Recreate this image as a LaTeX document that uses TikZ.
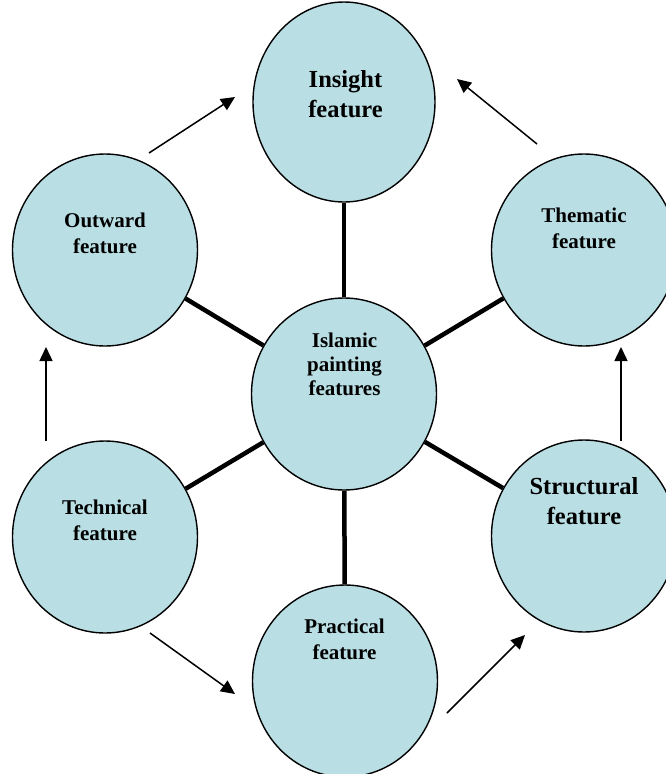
\documentclass[tikz,border=0pt]{standalone}
\usepackage{fontspec}
\setmainfont{Liberation Serif}
\usetikzlibrary{shapes.geometric,arrows.meta}
\definecolor{featblue}{RGB}{185,222,228}
\tikzset{
  feat/.style={ellipse,draw,line width=1.4pt,fill=featblue,inner sep=0pt,
    minimum width=185pt,minimum height=192pt},
  spoke/.style={line width=4.5pt},
  flow/.style={line width=1.5pt,-{Triangle[length=14pt,width=13pt]}},
  smalltxt/.style={font=\fontsize{21}{26}\selectfont\bfseries,align=center},
  bigtxt/.style={font=\fontsize{24.5}{30}\selectfont\bfseries,align=center}
}
\begin{document}
\begin{tikzpicture}[x=1pt,y=-1pt]
	\useasboundingbox (0,0) rectangle (665,774);
	% Circles
	\node[feat] (hub) at (344,394) {};
	\node[feat,minimum width=182pt,minimum height=200pt] (insight) at (344,102) {};
	\node[feat] (outward) at (105,250) {};
	\node[feat] (thematic) at (584,250) {};
	\node[feat] (technical) at (105,537) {};
	\node[feat] (structural) at (584,536) {};
	\node[feat] (practical) at (345,681) {};

	% spokes from the middle
	\draw[spoke] (hub) -- (insight);
	\draw[spoke] (hub) -- (outward);
	\draw[spoke] (hub) -- (thematic);
	\draw[spoke] (hub) -- (technical);
	\draw[spoke] (hub) -- (structural);
	\draw[spoke] (hub) -- (practical);

	% Labels
	\node[smalltxt,align=center,font=\fontsize{21}{24}\selectfont\bfseries] (hub-txt) at (344.5,364.5) {Islamic\\painting\\features};
	\node[bigtxt] (insight-txt) at (345.5,94.5) {Insight\\feature};
	\node[smalltxt] (outward-txt) at (105,233) {Outward\\feature};
	\node[smalltxt] (thematic-txt) at (584,228) {Thematic\\feature};
	\node[smalltxt] (technical-txt) at (105,520) {Technical\\feature};
	\node[bigtxt] (structural-txt) at (584,501) {Structural\\feature};
	\node[smalltxt] (practical-txt) at (344.5,639.5) {Practical\\feature};

	% arrows round the ring
	\coordinate (ow-s) at (149,153);
	\coordinate (ow-e) at (235,97);
	\coordinate (th-s) at (537,144);
	\coordinate (th-e) at (457,79);
	\coordinate (te-s) at (46,441);
	\coordinate (te-e) at (46,347);
	\coordinate (st-s) at (621,441);
	\coordinate (st-e) at (621,347);
	\coordinate (tp-s) at (150,633);
	\coordinate (tp-e) at (235,694);
	\coordinate (pr-s) at (447,713);
	\coordinate (pr-e) at (525,635);
	\draw[flow] (ow-s) -- (ow-e);
	\draw[flow] (th-s) -- (th-e);
	\draw[flow] (te-s) -- (te-e);
	\draw[flow] (st-s) -- (st-e);
	\draw[flow] (tp-s) -- (tp-e);
	\draw[flow] (pr-s) -- (pr-e);
\end{tikzpicture}
\end{document}
